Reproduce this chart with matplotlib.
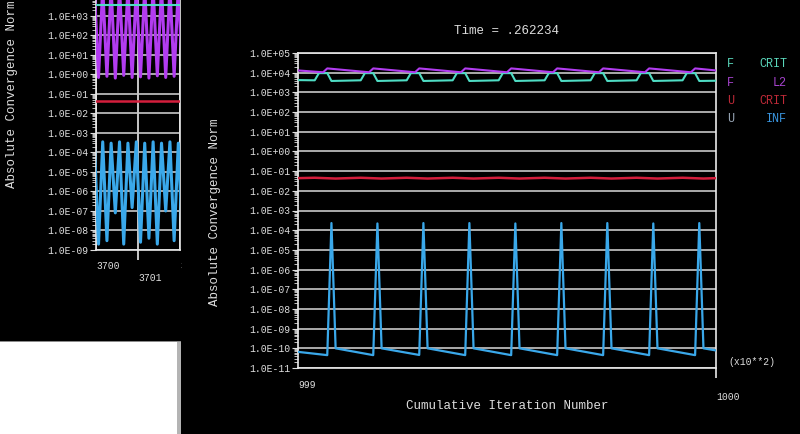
import matplotlib
matplotlib.use("Agg")
import matplotlib.pyplot as plt
from matplotlib.patches import Rectangle
from matplotlib.ticker import FixedLocator, NullFormatter, LogLocator

# ---------------- data: main panel (cumulative iteration numbers) ----------------
u_inf_iter = [99900, 99907, 99908, 99909, 99918, 99919, 99920, 99929, 99930, 99931,
              99940, 99941, 99942, 99951, 99952, 99953, 99962, 99963, 99964, 99973,
              99974, 99975, 99984, 99985, 99986, 99995, 99996, 99997, 100000]
u_inf_val = [6.6e-11, 4.5e-11, 2.3e-4, 1.0e-10, 4.5e-11, 2.2e-4, 1.0e-10, 4.6e-11, 2.3e-4, 1.0e-10,
             4.5e-11, 2.3e-4, 1.0e-10, 4.5e-11, 2.2e-4, 1.0e-10, 4.5e-11, 2.3e-4, 1.0e-10, 4.5e-11,
             2.3e-4, 1.0e-10, 4.5e-11, 2.2e-4, 1.0e-10, 4.5e-11, 2.3e-4, 1.0e-10, 7.8e-11]

f_crit_iter = [99900, 99904, 99905, 99907, 99908, 99915, 99916, 99918, 99919,
               99926, 99927, 99929, 99930, 99937, 99938, 99940, 99941,
               99948, 99949, 99951, 99952, 99959, 99960, 99962, 99963,
               99970, 99971, 99973, 99974, 99981, 99982, 99984, 99985,
               99992, 99993, 99995, 99996, 100000]
f_crit_val = [4.2e3, 4.1e3, 9.5e3, 9.5e3, 3.8e3, 4.1e3, 9.5e3, 9.5e3, 3.8e3,
              4.1e3, 9.5e3, 9.5e3, 3.8e3, 4.1e3, 9.5e3, 9.5e3, 3.8e3,
              4.1e3, 9.5e3, 9.5e3, 3.8e3, 4.1e3, 9.5e3, 9.5e3, 3.8e3,
              4.1e3, 9.5e3, 9.5e3, 3.8e3, 4.1e3, 9.5e3, 9.5e3, 3.8e3,
              4.1e3, 9.5e3, 9.5e3, 3.8e3, 3.9e3]

f_l2_iter = [99900, 99906, 99907, 99917, 99918, 99928, 99929, 99939, 99940, 99950,
             99951, 99961, 99962, 99972, 99973, 99983, 99984, 99994, 99995, 100000]
f_l2_val = [1.3e4, 1.05e4, 1.65e4, 1.05e4, 1.65e4, 1.05e4, 1.65e4, 1.05e4, 1.65e4, 1.05e4,
            1.65e4, 1.05e4, 1.65e4, 1.05e4, 1.65e4, 1.05e4, 1.65e4, 1.05e4, 1.65e4, 1.3e4]

u_crit_iter = [99900, 99904, 99909, 99915, 99920, 99926, 99931, 99937, 99942, 99948,
               99953, 99959, 99964, 99970, 99975, 99981, 99986, 99992, 99997, 100000]
u_crit_val = [4.4e-2, 4.6e-2, 4.2e-2, 4.6e-2, 4.2e-2, 4.6e-2, 4.2e-2, 4.6e-2, 4.2e-2, 4.6e-2,
              4.2e-2, 4.6e-2, 4.2e-2, 4.6e-2, 4.2e-2, 4.6e-2, 4.2e-2, 4.6e-2, 4.2e-2, 4.4e-2]

main_exponents = list(range(5, -12, -1))
main_xticks = [999, 1000]
main_xticklabels = ["999", "\n1000"]

# ---------------- data: left (background) window ----------------
left_x = [3699.96, 3700.06, 3700.16, 3700.26, 3700.36, 3700.46, 3700.56, 3700.66,
          3700.76, 3700.86, 3700.96, 3701.06, 3701.16, 3701.26, 3701.36, 3701.46,
          3701.56, 3701.66, 3701.76, 3701.86, 3701.96, 3702.06]
left_u_inf = [3e-4, 2e-9, 3.5e-4, 3e-9, 3e-4, 8e-8, 3.5e-4, 2e-9, 3e-4, 1.5e-7, 3.5e-4,
              2.5e-9, 3e-4, 4e-9, 3.5e-4, 2e-9, 3e-4, 1e-7, 3.5e-4, 3e-9, 3e-4, 2e-9]
left_f_l2 = [3e4, 0.7, 3e4, 0.8, 3e4, 0.65, 3e4, 0.9, 3e4, 0.7, 3e4,
             0.75, 3e4, 0.65, 3e4, 0.85, 3e4, 0.7, 3e4, 0.8, 3e4, 0.7]
left_f_crit_x = [3699.9, 3702.1]
left_f_crit = [3.6e3, 3.6e3]
left_u_crit_x = [3699.9, 3702.1]
left_u_crit = [4.1e-2, 4.1e-2]
left_exponents = list(range(3, -10, -1))
left_xticks = [3700, 3701, 3702]
left_xticklabels = ["3700", "\n3701", "3702"]

legend_rows = [("F", "CRIT", "#5ad8bc", "#5ad8bc"),
               ("F", "L2", "#a844d0", "#a844d0"),
               ("U", "CRIT", "#c02a38", "#c02a38"),
               ("U", "INF", "#9aa8b8", "#3a96e0")]

# ---------------- style ----------------
C_CYAN = "#4fdcc4"
C_MAG = "#b23cf0"
C_RED = "#d41e3c"
C_BLUE = "#3aa8ea"
C_GRID = "#c8c8c8"
C_TXT = "#dedede"
MONO = ["Liberation Mono", "DejaVu Sans Mono"]
plt.rcParams["font.family"] = MONO

W, H = 800, 434
fig = plt.figure(figsize=(8, 4.34), dpi=100, facecolor="black")


def fx(px):
    return px / W


def fy(py):
    return 1 - py / H


def style_axes(ax, exps):
    ax.set_facecolor("black")
    ax.set_yscale("log")
    ax.yaxis.set_major_locator(FixedLocator([10.0 ** e for e in exps]))
    ax.set_yticklabels(["1.0E%+03d" % e for e in exps])
    ax.yaxis.set_minor_locator(LogLocator(base=10, subs=range(2, 10), numticks=40))
    ax.yaxis.set_minor_formatter(NullFormatter())
    ax.tick_params(axis="y", which="major", direction="out", length=4.3, width=0.8,
                   color=C_TXT, labelcolor=C_TXT, labelsize=7, pad=1.5)
    ax.tick_params(axis="y", which="minor", direction="out", length=2.6, width=0.6,
                   color=C_TXT)
    ax.grid(True, axis="y", which="major", color=C_GRID, lw=1.2, zorder=0)
    for s in ax.spines.values():
        s.set_color("#e8e8e8")
        s.set_linewidth(1.2)


# ---------------- left (background) window ----------------
axl = fig.add_axes([fx(96), fy(250), fx(180) - fx(96), fy(-3.6) - fy(250)], zorder=0)
style_axes(axl, left_exponents)
axl.set_ylim(1e-9, 1e4)
axl.set_xlim(3700, 3702)
axl.plot(left_x, left_f_l2, color=C_MAG, lw=2.2, zorder=3)
axl.plot(left_f_crit_x, left_f_crit, color=C_CYAN, lw=1.5, zorder=4)
axl.plot(left_u_crit_x, left_u_crit, color=C_RED, lw=1.8, zorder=4)
axl.plot(left_x, left_u_inf, color=C_BLUE, lw=2.2, zorder=3)
axl.set_xticks(left_xticks)
axl.set_xticklabels(left_xticklabels)
axl.grid(True, axis="x", color="#e8e8e8", lw=1.2)
axl.tick_params(axis="x", direction="out", length=7, width=1.2, color="#e8e8e8",
                labelcolor=C_TXT, labelsize=7, pad=1)
for lab in axl.get_xticklabels():
    lab.set_ha("left")
xt = axl.xaxis.get_major_ticks()
xt[0].tick1line.set_visible(False)
xt[2].tick1line.set_visible(False)
fig.text(fx(12), fy(94), "Absolute Convergence Norm", rotation=90, ha="center",
         va="center", color=C_TXT, fontsize=9)

# cover for the clipped part of the background window
fig.patches.append(Rectangle((fx(182), 0), fx(296) - fx(182), 1, transform=fig.transFigure,
                             facecolor="black", edgecolor="none", zorder=1))
# white window bottom-left
fig.patches.append(Rectangle((0, 0), fx(177), fy(342), transform=fig.transFigure,
                             facecolor="white", edgecolor="none", zorder=1))
fig.patches.append(Rectangle((fx(177), 0), fx(4), fy(342), transform=fig.transFigure,
                             facecolor="#b4b4b4", edgecolor="none", zorder=1))
fig.patches.append(Rectangle((0, fy(342)), fx(181), fy(341) - fy(342), transform=fig.transFigure,
                             facecolor="#8a8a8a", edgecolor="none", zorder=1))

# ---------------- main window ----------------
ax = fig.add_axes([fx(298), fy(368), fx(716) - fx(298), fy(53) - fy(368)], zorder=2)
style_axes(ax, main_exponents)
ax.set_ylim(1e-11, 1e5)
ax.set_xlim(999, 1000)

ax.plot([i / 100 for i in u_crit_iter], u_crit_val, color=C_RED, lw=1.8, zorder=3)
ax.plot([i / 100 for i in f_crit_iter], f_crit_val, color=C_CYAN, lw=1.5, zorder=3)
ax.plot([i / 100 for i in f_l2_iter], f_l2_val, color=C_MAG, lw=1.5, zorder=4)
ax.plot([i / 100 for i in u_inf_iter], u_inf_val, color=C_BLUE, lw=1.6, zorder=3)

ax.set_xticks(main_xticks)
ax.set_xticklabels(main_xticklabels)
ax.tick_params(axis="x", direction="out", length=7, width=1.2, color="#e8e8e8",
               labelcolor=C_TXT, labelsize=7, pad=2)
for lab in ax.get_xticklabels():
    lab.set_ha("left")
ax.xaxis.get_major_ticks()[0].tick1line.set_visible(False)

fig.text(fx(728), fy(362), "(x10**2)", ha="left", va="center", color=C_TXT, fontsize=7)
fig.text(fx(507), fy(406), "Cumulative Iteration Number", ha="center", va="center",
         color=C_TXT, fontsize=9)
fig.text(fx(507), fy(31), "Time = .262234", ha="center", va="center",
         color=C_TXT, fontsize=9)
fig.text(fx(215), fy(212), "Absolute Convergence Norm", rotation=90, ha="center",
         va="center", color=C_TXT, fontsize=9)

legend_y = [64, 83, 101, 119]
for (a, b, ca, cb), yy in zip(legend_rows, legend_y):
    fig.text(fx(727), fy(yy), a, ha="left", va="center", color=ca, fontsize=8.5)
    fig.text(fx(787), fy(yy), b, ha="right", va="center", color=cb, fontsize=8.5)

fig.savefig("out.png", dpi=100, facecolor="black")
